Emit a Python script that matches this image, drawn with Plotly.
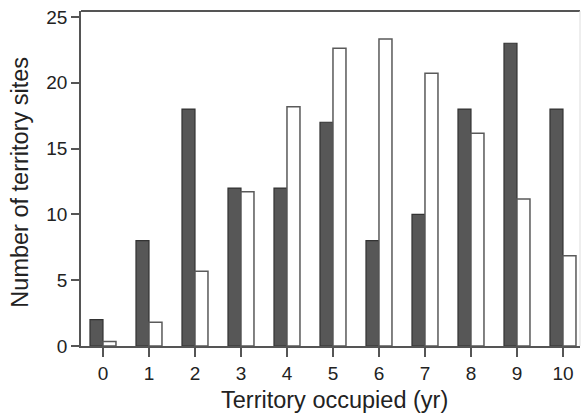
import plotly.graph_objects as go

years = [0, 1, 2, 3, 4, 5, 6, 7, 8, 9, 10]
dark_vals = [2, 8, 18, 12, 12, 17, 8, 10, 18, 23, 18]
white_vals = [0.35, 1.8, 5.68, 11.72, 18.18, 22.62, 23.33, 20.72, 16.16, 11.17, 6.86]
y_ticks = [0, 5, 10, 15, 20, 25]
x_title = "Territory occupied (yr)"
y_title = "Number of territory sites"

fig = go.Figure()
fig.add_trace(go.Bar(x=years, y=dark_vals, marker=dict(color="#575757", line=dict(color="#333333", width=1.2)), showlegend=False))
fig.add_trace(go.Bar(x=years, y=white_vals, marker=dict(color="white", line=dict(color="#5a5a5a", width=1.5)), showlegend=False))

fig.update_layout(
    width=582, height=415,
    margin=dict(l=81, r=2, t=11, b=69),
    paper_bgcolor="white", plot_bgcolor="white",
    barmode="group", bargap=0.435, bargroupgap=0,
    font=dict(family="Liberation Sans, Arial, sans-serif", color="#222222"),
    xaxis=dict(
        range=[-0.478, 10.37], tickmode="array", tickvals=years, ticktext=[str(v) for v in years],
        showline=True, linecolor="#555555", linewidth=1.5, mirror=False,
        ticks="outside", ticklen=9, tickcolor="#555555", tickwidth=1.5,
        showgrid=False, zeroline=False, tickfont=dict(size=19), automargin=False,
    ),
    yaxis=dict(
        range=[0, 25.45], tickmode="array", tickvals=y_ticks,
        showline=True, linecolor="#555555", linewidth=1.5,
        ticks="outside", ticklen=8, tickcolor="#555555", tickwidth=1.5,
        showgrid=False, zeroline=False, tickfont=dict(size=19), automargin=False,
    ),
    annotations=[
        dict(text=x_title, xref="paper", yref="paper", x=0.508, y=-0.16, xanchor="center", yanchor="middle",
             showarrow=False, font=dict(size=23.5)),
        dict(text=y_title, xref="paper", yref="paper", x=-0.124, y=0.488, xanchor="center", yanchor="middle",
             textangle=-90, showarrow=False, font=dict(size=23.5)),
    ],
    shapes=[
        dict(type="line", xref="paper", yref="paper", x0=0, x1=1, y0=1, y1=1, line=dict(color="#555555", width=2)),
        dict(type="line", xref="paper", yref="paper", x0=1, x1=1, y0=0, y1=1, line=dict(color="#dddddd", width=1)),
    ],
)

fig.write_html("out.html", config={"displayModeBar": False},
               post_script="document.body.style.margin='0px';document.body.style.padding='0px';")
